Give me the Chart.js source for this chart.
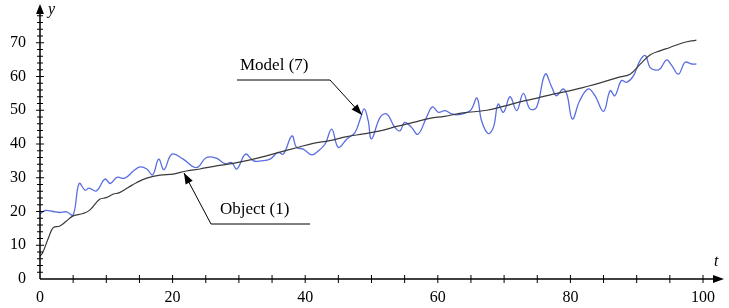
<!DOCTYPE html>
<html>
<head>
<meta charset="utf-8">
<script src="https://cdn.jsdelivr.net/npm/chart.js@4/dist/chart.umd.min.js"></script>
<style>
html,body{margin:0;padding:0;background:#fff;}
#wrap{width:729px;height:308px;}
</style>
</head>
<body>
<div id="wrap"><canvas id="c" width="729" height="308"></canvas></div>
<script>
// Model (7) – blue curve
const modelT = [0,0.8,2,3,4,5,5.9,6.8,7.4,8.5,9.8,10.6,11.6,12.8,14.1,15.1,16.1,17,17.9,18.7,19.9,21.6,23.6,25.1,26.6,27.9,28.9,29.7,31,32.2,33.4,34.7,35.9,36.7,38,38.7,39.7,41,42,43,44,45,46.3,47.5,48.3,48.9,49.5,50,51.3,52.3,53.5,54.3,55,56,57,58.3,59.2,60.1,61.1,62.1,63.1,64.9,65.9,66.6,67.6,68.4,69.1,69.9,70.9,71.9,72.9,73.9,74.9,76.2,77.2,77.9,78.9,79.5,80.3,81.4,82.7,83.7,85,86,86.7,87.7,88.5,89.5,90.5,91.3,92,92.8,93.5,94.5,95.3,96.3,97.3,98.3,99];
const modelY = [19.3,20.3,20,19.7,19.9,19,28.3,26.3,26.9,26.1,29.6,28.3,30.1,29.9,32,33.2,32.6,30.9,35.5,32.4,37,35.5,33,36,35.8,34.2,34.5,32.6,37,35,35,35.5,37.5,37,42.4,39,38.5,36.8,38,40,44.4,39,41.5,43.4,47.4,50.4,46.9,41.5,47.9,48.9,45,43.9,46.4,45,42.9,47.9,51,49.4,49.9,48.9,48.7,49.9,53.6,46.9,43.1,45,51.8,49.4,54,49.9,55,50.4,50.9,60.7,56.8,54.3,56.3,54.5,47.4,52.8,56.3,54.3,49.7,55.8,54.3,58.8,58.3,60.2,64.7,66.2,62.7,61.9,62.2,64.9,63.2,60.7,64.2,63.7,63.7];
// Object (1) – black curve
const objectT = [0,0.4,1.3,2,3,4,5,6.5,7.5,9,10,11,12,13.3,14.6,16.1,18.1,20.1,22.1,24.1,26.6,28.9,31.7,34,36.2,38.7,41.2,43.7,46.3,48.8,51.3,53.8,56.3,58.8,61,63.8,67.4,70,72.4,75,77.4,80,82,84.5,87.5,89,90.5,92,93.5,95,97,99];
const objectY = [6.8,7.8,12.3,15.2,15.7,17.2,18.7,19.4,20.4,23.6,24.1,25.1,25.6,27.1,28.6,29.9,30.8,31.1,32,32.6,33.5,34.2,35.3,36.4,37.6,38.9,40.2,41,42.2,43,43.9,45.2,46.4,47.6,48.2,49.2,50,51.2,52.5,53.6,54.8,55.8,56.8,58.1,59.9,60.7,63.6,66.4,67.6,68.6,70,70.8];
const xTicks = [0,20,40,60,80,100];
const yTicks = [0,10,20,30,40,50,60,70];
const modelLabel = 'Model (7)';
const objectLabel = 'Object (1)';

const toXY = (ts, ys) => ts.map((t, i) => ({x: t, y: ys[i]}));
const SERIF = '"Liberation Serif", "DejaVu Serif", serif';

const axesPlugin = {
  id: 'axesPlugin',
  afterDraw(chart) {
    const ctx = chart.ctx;
    const xs = chart.scales.x, ys = chart.scales.y;
    const x0 = xs.getPixelForValue(0), y0 = ys.getPixelForValue(0);
    ctx.save();
    ctx.strokeStyle = '#000'; ctx.fillStyle = '#000'; ctx.lineWidth = 1.5;
    // y axis
    ctx.beginPath(); ctx.moveTo(x0, y0); ctx.lineTo(x0, 12); ctx.stroke();
    ctx.beginPath(); ctx.moveTo(x0, 4); ctx.lineTo(x0 - 4, 14); ctx.lineTo(x0 + 4, 14); ctx.closePath(); ctx.fill();
    // x axis
    ctx.beginPath(); ctx.moveTo(x0, y0); ctx.lineTo(716, y0); ctx.stroke();
    ctx.beginPath(); ctx.moveTo(724, y0); ctx.lineTo(713, y0 - 4); ctx.lineTo(713, y0 + 4); ctx.closePath(); ctx.fill();
    ctx.lineWidth = 1;
    // y ticks every 2
    for (let v = 2; v <= 78; v += 2) {
      const p = ys.getPixelForValue(v);
      const h = (v % 10 === 0) ? 4 : 3;
      ctx.beginPath(); ctx.moveTo(x0 - h, p); ctx.lineTo(x0 + h, p); ctx.stroke();
    }
    // x ticks every 5
    for (let v = 5; v <= 100; v += 5) {
      const p = xs.getPixelForValue(v);
      ctx.beginPath(); ctx.moveTo(p, y0 - 4); ctx.lineTo(p, y0 + 4); ctx.stroke();
    }
    // axis names
    ctx.font = 'italic 16px ' + SERIF;
    ctx.textBaseline = 'middle'; ctx.textAlign = 'left';
    ctx.fillText('y', 48, 10);
    ctx.fillText('t', 714, 262);
    // annotations
    ctx.font = '17px ' + SERIF;
    ctx.fillText(modelLabel, 240, 66);
    ctx.fillText(objectLabel, 220, 210);
    ctx.lineWidth = 1;
    const arrow = (pts) => {
      ctx.beginPath(); ctx.moveTo(pts[0][0], pts[0][1]);
      for (let i = 1; i < pts.length; i++) ctx.lineTo(pts[i][0], pts[i][1]);
      ctx.stroke();
      const a = pts[pts.length - 2], b = pts[pts.length - 1];
      const ang = Math.atan2(b[1] - a[1], b[0] - a[0]);
      const L = 11, W = 4;
      ctx.beginPath();
      ctx.moveTo(b[0], b[1]);
      ctx.lineTo(b[0] - L * Math.cos(ang) + W * Math.sin(ang), b[1] - L * Math.sin(ang) - W * Math.cos(ang));
      ctx.lineTo(b[0] - L * Math.cos(ang) - W * Math.sin(ang), b[1] - L * Math.sin(ang) + W * Math.cos(ang));
      ctx.closePath(); ctx.fill();
    };
    arrow([[237, 80], [330, 80], [362, 115]]);
    arrow([[310, 224], [211, 224], [184, 173]]);
    ctx.restore();
  }
};

new Chart(document.getElementById('c'), {
  type: 'line',
  data: {
    datasets: [
      { label: objectLabel, data: toXY(objectT, objectY), borderColor: '#3a3a3a', borderWidth: 1.2, pointRadius: 0, tension: 0.4, fill: false },
      { label: modelLabel, data: toXY(modelT, modelY), borderColor: '#5a6ee0', borderWidth: 1.3, pointRadius: 0, tension: 0.4, fill: false }
    ]
  },
  options: {
    responsive: false,
    animation: false,
    layout: { padding: { top: 9, right: 26, left: 0, bottom: 0 } },
    plugins: { legend: { display: false }, tooltip: { enabled: false } },
    scales: {
      x: {
        type: 'linear', min: 0, max: 100,
        grid: { display: false, drawTicks: false },
        border: { display: false },
        afterBuildTicks: (s) => { s.ticks = xTicks.map(v => ({value: v})); },
        afterFit: (s) => { s.height = 29; s.paddingLeft = 0; s.paddingRight = 0; },
        ticks: { padding: 9, maxRotation: 0, color: '#000', font: { family: SERIF, size: 16 } }
      },
      y: {
        type: 'linear', min: 0, max: 80,
        grid: { display: false, drawTicks: false },
        border: { display: false },
        afterBuildTicks: (s) => { s.ticks = yTicks.map(v => ({value: v})); },
        afterFit: (s) => { s.width = 40; s.paddingTop = 0; s.paddingBottom = 0; },
        ticks: { padding: 14, color: '#000', font: { family: SERIF, size: 16 } }
      }
    }
  },
  plugins: [axesPlugin]
});
</script>
</body>
</html>
